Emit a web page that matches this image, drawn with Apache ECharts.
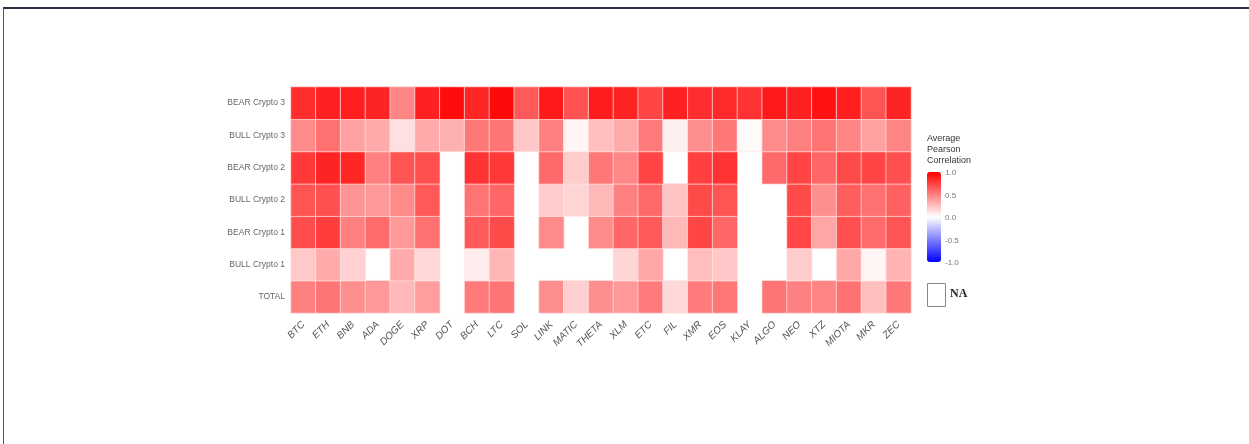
<!DOCTYPE html>
<html>
<head>
<meta charset="utf-8">
<script src="https://cdn.jsdelivr.net/npm/echarts@6/dist/echarts.min.js"></script>
<style>
html,body{margin:0;padding:0;background:#fff;}
#chart{width:1249px;height:444px;}
</style>
</head>
<body>
<div id="chart"></div>
<script>
var coins = ['BTC','ETH','BNB','ADA','DOGE','XRP','DOT','BCH','LTC','SOL','LINK','MATIC','THETA','XLM','ETC','FIL','XMR','EOS','KLAY','ALGO','NEO','XTZ','MIOTA','MKR','ZEC'];
// bottom to top
var rows = ['TOTAL','BULL Crypto 1','BEAR Crypto 1','BULL Crypto 2','BEAR Crypto 2','BULL Crypto 3','BEAR Crypto 3'];
var NA = null;
var bear3  = [0.82,0.87,0.88,0.86,0.48,0.87,0.95,0.85,0.96,0.65,0.90,0.68,0.89,0.86,0.73,0.87,0.82,0.83,0.80,0.90,0.87,0.93,0.88,0.67,0.86];
var bull3  = [0.46,0.56,0.37,0.33,0.12,0.33,0.31,0.53,0.54,0.22,0.50,0.04,0.25,0.33,0.52,0.06,0.44,0.53,0.02,0.46,0.50,0.55,0.48,0.37,0.48];
var bear2  = [0.78,0.86,0.85,0.50,0.67,0.69,NA,0.80,0.78,NA,0.59,0.20,0.53,0.47,0.73,NA,0.75,0.80,NA,0.59,0.73,0.60,0.71,0.73,0.69];
var bull2  = [0.67,0.69,0.42,0.40,0.46,0.65,NA,0.55,0.60,NA,0.20,0.17,0.28,0.50,0.59,0.23,0.71,0.67,NA,NA,0.71,0.44,0.63,0.56,0.62];
var bear1  = [0.70,0.76,0.50,0.58,0.40,0.56,NA,0.65,0.71,NA,0.46,NA,0.46,0.60,0.65,0.28,0.73,0.60,NA,NA,0.72,0.35,0.69,0.58,0.67];
var bull1  = [0.21,0.33,0.18,NA,0.33,0.15,NA,0.07,0.29,NA,NA,NA,NA,0.16,0.34,NA,0.26,0.22,NA,NA,0.20,NA,0.34,0.04,0.30];
var total  = [0.50,0.54,0.44,0.40,0.28,0.38,NA,0.52,0.54,NA,0.44,0.19,0.44,0.40,0.52,0.15,0.52,0.53,NA,0.54,0.50,0.48,0.56,0.25,0.53];
var legendTicks = ['1.0','0.5','0.0','-0.5','-1.0'];

var rowData = [total, bull1, bear1, bull2, bear2, bull3, bear3];
var data = [];
rowData.forEach(function(r, yi){
  r.forEach(function(v, xi){
    data.push([xi, yi, v === null ? '-' : v]);
  });
});

var chart = echarts.init(document.getElementById('chart'), null, {renderer:'canvas'});

var tickGraphics = legendTicks.map(function(t, i){
  return {type:'text', left: 945, top: 169 + i*22.5,
    style:{text:t, fill:'#777', font:'8px "Liberation Sans", Arial, sans-serif'}};
});

chart.setOption({
  animation:false,
  backgroundColor:'#ffffff',
  grid:{left:291, right:338, top:87, bottom:131},
  xAxis:{type:'category', data:coins,
    axisLine:{show:false}, axisTick:{show:false}, splitLine:{show:false},
    axisLabel:{rotate:45, margin:10, color:'#555', fontSize:10, fontStyle:'italic',
      fontFamily:'"Liberation Sans", Arial, sans-serif'}},
  yAxis:{type:'category', data:rows,
    axisLine:{show:false}, axisTick:{show:false}, splitLine:{show:false},
    axisLabel:{margin:6, color:'#666', fontSize:8.5,
      fontFamily:'"Liberation Sans", Arial, sans-serif'}},
  visualMap:{type:'continuous', min:-1, max:1, calculable:false, show:true,
    orient:'vertical', left:927, top:172, itemWidth:14, itemHeight:90,
    text:['',''], showLabel:false, padding:0,
    inRange:{color:['#0000FF','#FFFFFF','#FF0000']}},
  series:[{type:'heatmap', data:data,
    itemStyle:{borderColor:'rgba(255,230,230,0.7)', borderWidth:1},
    emphasis:{disabled:true}}],
  graphic:[
    {type:'line', shape:{x1:3, y1:8, x2:1249, y2:8}, style:{stroke:'#2d2d42', lineWidth:2}},
    {type:'line', shape:{x1:3.5, y1:8, x2:3.5, y2:444}, style:{stroke:'#555', lineWidth:1}},
    {type:'text', left:927, top:133, style:{text:'Average\nPearson\nCorrelation', fill:'#333',
      font:'9px "Liberation Sans", Arial, sans-serif', lineHeight:11}},
    {type:'rect', shape:{x:927.5, y:283.5, width:18, height:23}, style:{fill:'#fff', stroke:'#888', lineWidth:1}},
    {type:'text', left:950, top:288, style:{text:'NA', fill:'#222',
      font:'bold 12px "Liberation Serif", "Times New Roman", serif'}}
  ].concat(tickGraphics)
});
</script>
</body>
</html>
